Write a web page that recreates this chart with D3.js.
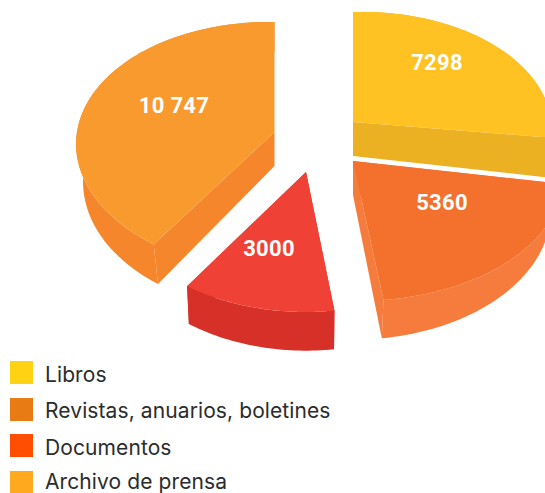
<!DOCTYPE html>
<html><head><meta charset="utf-8">
<script src="https://cdn.jsdelivr.net/npm/d3@7/dist/d3.min.js"></script>
<style>html,body{margin:0;padding:0;background:#fff;overflow:hidden}svg{display:block}</style>
</head><body><svg id="c" width="545" height="493"></svg>
<script>
const categories=["Libros","Revistas, anuarios, boletines","Documentos","Archivo de prensa"];
const values=[7298,5360,3000,10747];
const valueLabels=["7298","5360","3000","10 747"];
const topColors=["#FFC222","#F4702D","#EF4135","#F99A2F"];
const sideColors=["#EBB122","#F57C3C","#D63029","#F5862B"];
const legendColors=["#FFD313","#E87B14","#FF4E00","#FFA91E"];
const apexX=[353,353,306,274.5];
const apexY=[122,161,172,132];
const radiusX=[198,208,194,197];
const wallScale=[0.975,0.945,0.985,0.965];
const topSkew=[-0.025,0.01,0,0.015];
const labelX=[437,442,269,174];
const labelY=[70,210,256,113];
const legendY=[361,398,434,471];
const legendBase=[382,418,455,489];

const svg=d3.select("#c");
const persp=0.12, ry=123.2, depth=34;
const pie=d3.pie().sort(null)(values);
const line=d3.line().x(d=>d[0]).y(d=>d[1]);
pie.forEach((a,i)=>{
  const proj=(r,t,low)=>{
    const u=r*Math.sin(t),v=r*Math.cos(t),p=1/(1+persp*v);
    const k=low?wallScale[i]:1;
    const X=radiusX[i]*u*p*k;
    return [apexX[i]+X, apexY[i]-ry*v*p+(low?depth*p:topSkew[i]*X)];
  };
  const angles=d3.range(a.startAngle,a.endAngle,0.02).concat([a.endAngle]);
  const topOuter=angles.map(t=>proj(1,t,false));
  const lowOuter=angles.map(t=>proj(1,t,true));
  const apex=proj(0,0,false), lowApex=proj(0,0,true);
  const g=svg.append("g");
  const side=sideColors[i];
  g.append("path").attr("d",line(topOuter.concat(lowOuter.slice().reverse()))+"Z").attr("fill",side);
  g.append("path").attr("d",line([apex,topOuter[0],lowOuter[0],lowApex])+"Z").attr("fill",side);
  const n=topOuter.length-1;
  g.append("path").attr("d",line([apex,topOuter[n],lowOuter[n],lowApex])+"Z").attr("fill",side);
  g.append("path").attr("d",line([apex].concat(topOuter))+"Z").attr("fill",topColors[i]);
});
svg.selectAll("text.v").data(valueLabels).join("text").attr("class","v")
 .attr("x",(d,i)=>labelX[i]).attr("y",(d,i)=>labelY[i]).attr("text-anchor","middle")
 .attr("fill","#fff").attr("font-family","Roboto").attr("font-weight",700).attr("font-size",22)
 .attr("letter-spacing",0.3).text(d=>d);
svg.selectAll("rect.l").data(categories).join("rect").attr("class","l")
 .attr("x",10).attr("y",(d,i)=>legendY[i]).attr("width",23).attr("height",23)
 .attr("fill",(d,i)=>legendColors[i]);
svg.selectAll("text.l").data(categories).join("text").attr("class","l")
 .attr("x",45).attr("y",(d,i)=>legendBase[i])
 .attr("fill","#2b2b2b").attr("font-family","Inter").attr("font-size",21).attr("letter-spacing",0.1).text(d=>d);
</script></body></html>
